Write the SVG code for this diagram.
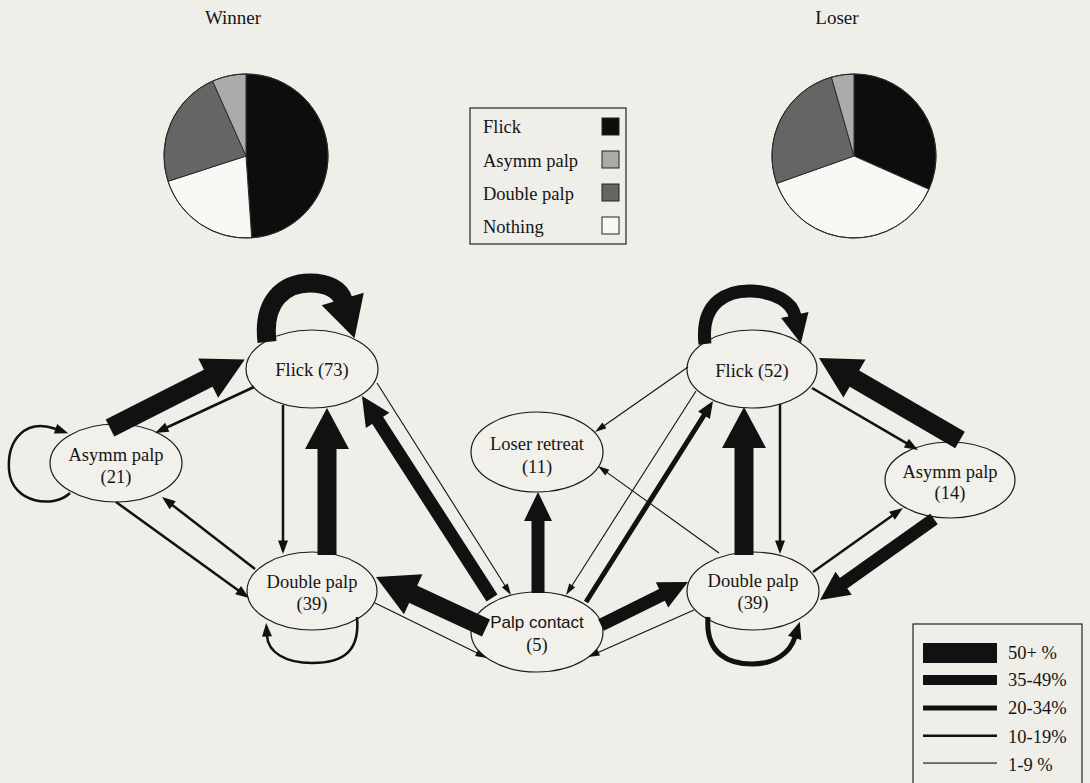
<svg xmlns="http://www.w3.org/2000/svg" width="1090" height="783" viewBox="0 0 1090 783">
<style>
text{font-family:"Liberation Serif","Times New Roman",serif;fill:#151515}
.t{font-size:19px}
.n{font-size:18.5px;text-anchor:middle}
.lg{font-size:18.5px}
.sans{font-family:"Liberation Sans",Arial,sans-serif;font-size:17px}
.node{fill:#f1f0eb;stroke:#1a1a1a;stroke-width:1.2}
.e{fill:none;stroke:#111}
.w50{stroke-width:19}
.w35{stroke-width:13}
.w20{stroke-width:5}
.w10{stroke-width:2.5}
.w1{stroke-width:1.1}
.pie{stroke:#2a2a2a;stroke-width:1}
</style>
<defs>
<marker id="h50" markerUnits="userSpaceOnUse" markerWidth="44" markerHeight="46" viewBox="-2 -23 44 46" refX="0" refY="0" orient="auto" overflow="visible"><path d="M-1,-22 L40,0 L-1,22 Z" fill="#111"/></marker>
<marker id="h35" markerUnits="userSpaceOnUse" markerWidth="32" markerHeight="32" viewBox="-2 -16 32 32" refX="0" refY="0" orient="auto" overflow="visible"><path d="M-1,-14 L28,0 L-1,14 Z" fill="#111"/></marker>
<marker id="h20" markerUnits="userSpaceOnUse" markerWidth="20" markerHeight="18" viewBox="-2 -9 20 18" refX="0" refY="0" orient="auto" overflow="visible"><path d="M-1,-7 L16,0 L-1,7 Z" fill="#111"/></marker>
<marker id="h10" markerUnits="userSpaceOnUse" markerWidth="16" markerHeight="12" viewBox="-2 -6 16 12" refX="0" refY="0" orient="auto" overflow="visible"><path d="M-0.5,-5 L13,0 L-0.5,5 Z" fill="#111"/></marker>
<marker id="h1" markerUnits="userSpaceOnUse" markerWidth="14" markerHeight="10" viewBox="-2 -5 14 10" refX="0" refY="0" orient="auto" overflow="visible"><path d="M-0.5,-3.5 L11,0 L-0.5,3.5 Z" fill="#111"/></marker>
</defs>
<rect width="1090" height="783" fill="#efeee9"/>

<text class="t" x="233" y="24" text-anchor="middle">Winner</text>
<text class="t" x="837" y="24" text-anchor="middle">Loser</text>

<g id="pie-winner" class="pie">
<path d="M246,156 L246,74 A82,82 0 0 1 251.7,237.8 Z" fill="#0d0d0d"/>
<path d="M246,156 L251.7,237.8 A82,82 0 0 1 168,181.3 Z" fill="#f8f8f5"/>
<path d="M246,156 L168,181.3 A82,82 0 0 1 212.6,81.1 Z" fill="#656565"/>
<path d="M246,156 L212.6,81.1 A82,82 0 0 1 246,74 Z" fill="#ababab"/>
<circle cx="246" cy="156" r="82" fill="none"/>
</g>
<g id="pie-loser" class="pie">
<path d="M854,156 L854,74 A82,82 0 0 1 928.9,189.3 Z" fill="#0d0d0d"/>
<path d="M854,156 L928.9,189.3 A82,82 0 0 1 776.7,183.4 Z" fill="#f8f8f5"/>
<path d="M854,156 L776.7,183.4 A82,82 0 0 1 831.4,77.2 Z" fill="#656565"/>
<path d="M854,156 L831.4,77.2 A82,82 0 0 1 854,74 Z" fill="#ababab"/>
<circle cx="854" cy="156" r="82" fill="none"/>
</g>

<g id="legend-behaviour">
<rect x="470" y="108" width="156" height="136" fill="none" stroke="#222" stroke-width="1.2"/>
<text class="lg" x="483" y="133">Flick</text>
<text class="lg" x="483" y="167">Asymm palp</text>
<text class="lg" x="483" y="200">Double palp</text>
<text class="lg" x="483" y="233">Nothing</text>
<rect x="602" y="118" width="17" height="17" fill="#0d0d0d" stroke="#222"/>
<rect x="602" y="151" width="17" height="17" fill="#ababab" stroke="#222"/>
<rect x="602" y="184" width="17" height="17" fill="#656565" stroke="#222"/>
<rect x="602" y="217" width="17" height="17" fill="#f8f8f5" stroke="#222"/>
</g>

<g id="node-flick73"><ellipse class="node" cx="312" cy="369" rx="66" ry="39"/><text class="n" x="312" y="376">Flick (73)</text></g>
<g id="node-asymm21"><ellipse class="node" cx="116" cy="463" rx="66" ry="39"/><text class="n" x="116" y="461">Asymm palp</text><text class="n" x="116" y="483">(21)</text></g>
<g id="node-double39w"><ellipse class="node" cx="312" cy="591" rx="65" ry="39"/><text class="n" x="312" y="588">Double palp</text><text class="n" x="312" y="610">(39)</text></g>
<g id="node-loser-retreat"><ellipse class="node" cx="537" cy="452" rx="66" ry="40"/><text class="n" x="537" y="450">Loser retreat</text><text class="n" x="537" y="473">(11)</text></g>
<g id="node-palp-contact"><ellipse class="node" cx="537" cy="632" rx="66" ry="40"/><text class="sans" x="537" y="628" text-anchor="middle">Palp contact</text><text class="n" x="537" y="651">(5)</text></g>
<g id="node-flick52"><ellipse class="node" cx="752" cy="369" rx="65" ry="39"/><text class="n" x="752" y="377">Flick (52)</text></g>
<g id="node-asymm14"><ellipse class="node" cx="950" cy="480" rx="65" ry="38"/><text class="n" x="950" y="478">Asymm palp</text><text class="n" x="950" y="499">(14)</text></g>
<g id="node-double39l"><ellipse class="node" cx="753" cy="591" rx="66" ry="39"/><text class="n" x="753" y="587">Double palp</text><text class="n" x="753" y="609">(39)</text></g>

<g id="connectors">
<!-- winner side -->
<path class="e w50" d="M267,342 C262,300 285,283 310,283 C328,283 340,290 343,300" marker-end="url(#h50)"/>
<path class="e w50" d="M110,428 L209.1,377.7" marker-end="url(#h50)"/>
<path class="e w10" d="M254,387 L166.8,427.5" marker-end="url(#h10)"/>
<path class="e w10" d="M70,493 C55,508 12,505 9,470 C7,440 25,418 56,429" marker-end="url(#h10)"/>
<path class="e w10" d="M116,502 L238.5,590.4" marker-end="url(#h10)"/>
<path class="e w10" d="M255,569 L172.3,505" marker-end="url(#h10)"/>
<path class="e w10" d="M283,405 L283,541" marker-end="url(#h10)"/>
<path class="e w50" d="M327,555 L327,448" marker-end="url(#h50)"/>
<path class="e w10" d="M357,617 C360,650 345,663 312,663 C285,663 268,652 267,636" marker-end="url(#h10)"/>
<path class="e w50" d="M486,628 L412.3,593.8" marker-end="url(#h50)"/>
<path class="e w35" d="M492,598 L377.1,419.5" marker-end="url(#h35)"/>
<path class="e w1" d="M377,383 L505.1,585.7" marker-end="url(#h1)"/>
<path class="e w1" d="M375,603 L477.1,653.1" marker-end="url(#h1)"/>
<path class="e w35" d="M538,593 L538,520" marker-end="url(#h35)"/>
<!-- loser side -->
<path class="e w35" d="M705,344 C700,300 730,290 752,291 C775,292 792,302 795,316" marker-end="url(#h35)"/>
<path class="e w1" d="M688,367 L604,425.7" marker-end="url(#h1)"/>
<path class="e w1" d="M719,553 L606.9,472.4" marker-end="url(#h1)"/>
<path class="e w1" d="M696,391 L571.9,585.7" marker-end="url(#h1)"/>
<path class="e w20" d="M586,602 L704.5,414.5" marker-end="url(#h20)"/>
<path class="e w50" d="M744,555 L744,447" marker-end="url(#h50)"/>
<path class="e w10" d="M780,404 L780,541" marker-end="url(#h10)"/>
<path class="e w10" d="M812,388 L906.8,443.4" marker-end="url(#h10)"/>
<path class="e w50" d="M960,440 L853.6,378.1" marker-end="url(#h50)"/>
<path class="e w10" d="M813,572 L892.4,515.5" marker-end="url(#h10)"/>
<path class="e w35" d="M934,519 L842.8,583.8" marker-end="url(#h35)"/>
<path class="e w20" d="M708,617 C705,655 730,664 752,664 C775,664 790,653 795,637" marker-end="url(#h20)"/>
<path class="e w35" d="M601,625 L662.9,594.4" marker-end="url(#h35)"/>
<path class="e w1" d="M694,610 L598.1,652.5" marker-end="url(#h1)"/>
</g>

<g id="legend-width">
<rect x="913" y="624" width="169" height="170" fill="none" stroke="#222" stroke-width="1.2"/>
<rect x="923" y="643" width="74" height="20" fill="#111"/>
<rect x="923" y="675" width="74" height="10" fill="#111"/>
<rect x="923" y="705.5" width="74" height="5" fill="#111"/>
<rect x="923" y="734.5" width="74" height="2.5" fill="#111"/>
<rect x="923" y="762.5" width="74" height="1.1" fill="#111"/>
<text class="lg" x="1008" y="659">50+ %</text>
<text class="lg" x="1008" y="686">35-49%</text>
<text class="lg" x="1008" y="714">20-34%</text>
<text class="lg" x="1008" y="743">10-19%</text>
<text class="lg" x="1008" y="771">1-9 %</text>
</g>
</svg>
